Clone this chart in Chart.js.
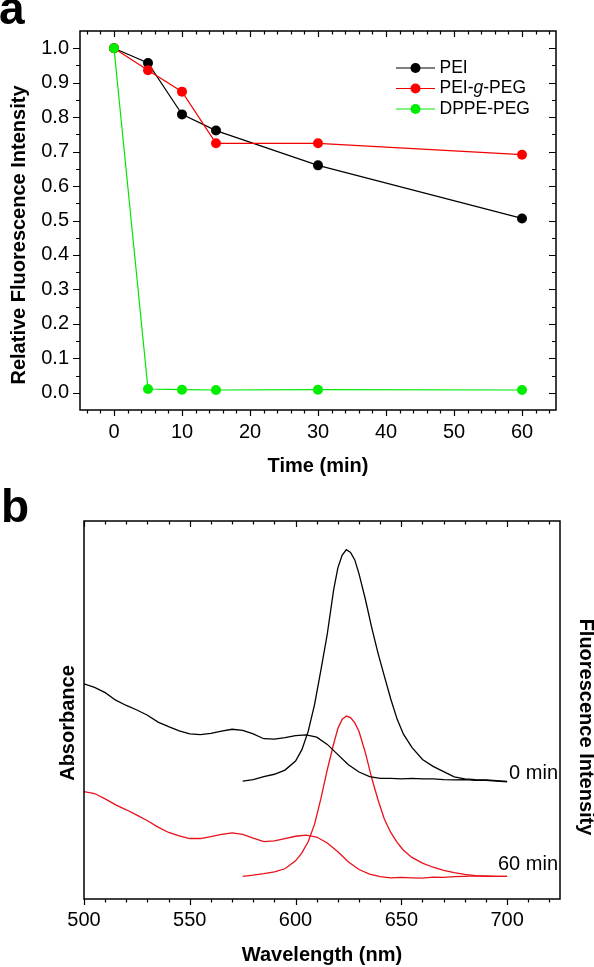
<!DOCTYPE html>
<html>
<head>
<meta charset="utf-8">
<script src="https://cdn.jsdelivr.net/npm/chart.js@4.4.1/dist/chart.umd.min.js"></script>
<style>
  html, body { margin: 0; padding: 0; background: #fff; }
  .panel { position: absolute; left: 0; width: 594px; }
</style>
</head>
<body>
<div class="panel" style="top:0;height:485px"><canvas id="chartA"></canvas></div>
<div class="panel" style="top:485px;height:482px"><canvas id="chartB"></canvas></div>
<script>
// ---- panel a: relative fluorescence vs time
const timeMin = [0, 5, 10, 15, 30, 60];
const seriesNames = ['PEI', 'PEI-g-PEG', 'DPPE-PEG'];
const peiValues = [1.0, 0.957, 0.808, 0.761, 0.660, 0.506];
const peiPegValues = [1.0, 0.936, 0.874, 0.724, 0.724, 0.691];
const dppePegValues = [1.0, 0.011, 0.009, 0.008, 0.009, 0.008];
const xTicksA = [0, 10, 20, 30, 40, 50, 60];
const yTicksA = [0, 0.1, 0.2, 0.3, 0.4, 0.5, 0.6, 0.7, 0.8, 0.9, 1.0];

// ---- panel b: absorbance + fluorescence spectra
const absWavelength = [500, 505, 510, 515, 520, 525, 530, 535, 540, 545, 550, 555, 560, 565, 570, 575, 580, 585, 590, 595,
  600, 605, 610, 615, 620, 625, 630, 635, 640, 645, 650, 655, 660, 665, 670, 675, 680, 685, 690, 695, 700];
const abs0min = [56.9, 56.0, 54.6, 52.6, 51.2, 50.0, 48.6, 46.8, 45.6, 44.5, 43.7, 43.5, 43.8, 44.4, 44.9, 44.6, 43.7, 42.4, 42.3, 42.7,
  43.2, 43.4, 42.8, 40.9, 38.2, 35.5, 33.6, 32.4, 31.9, 31.9, 31.8, 31.9, 31.8, 31.8, 31.6, 31.5, 31.6, 31.4, 31.4, 31.2, 31.0];
const abs60min = [28.4, 27.9, 26.5, 24.9, 23.6, 22.2, 20.7, 19.0, 17.6, 16.7, 16.0, 16.0, 16.5, 17.1, 17.5, 17.1, 16.1, 15.2, 15.4, 16.0,
  16.6, 16.9, 16.4, 14.8, 12.5, 9.8, 7.8, 6.6, 5.9, 5.6, 5.7, 5.6, 5.5, 5.8, 5.7, 5.9, 6.0, 6.1, 6.0, 6.0, 6.0];
const fluorWavelength = [575, 580, 585, 590, 595, 600, 603, 606, 609, 612, 615, 618, 620, 622, 624, 626, 628, 630, 633, 636,
  639, 642, 645, 648, 651, 655, 660, 665, 670, 675, 680, 685, 690, 695, 700];
const fluor0min = [31.2, 31.6, 32.4, 33.0, 34.1, 36.5, 39.5, 44.4, 51.5, 60.6, 70.1, 81.8, 87.6, 90.9, 92.4, 91.7, 89.7, 86.0, 79.3, 71.8,
  65.0, 58.9, 52.9, 47.6, 43.6, 40.1, 36.9, 35.1, 33.7, 32.3, 31.8, 31.6, 31.5, 31.3, 31.1];
const fluor60min = [6.0, 6.3, 6.7, 7.2, 8.0, 10.1, 12.2, 15.2, 19.8, 26.6, 34.2, 41.0, 45.1, 47.5, 48.4, 48.0, 46.6, 44.3, 38.7, 32.0,
  26.2, 21.1, 17.6, 15.0, 12.9, 11.0, 9.5, 8.4, 7.6, 7.0, 6.5, 6.2, 6.1, 6.0, 6.0];
const curveLabels = ['0 min', '60 min'];
const xTicksB = [500, 550, 600, 650, 700];

Chart.defaults.font.family = "'Liberation Sans', Arial, sans-serif";
Chart.defaults.font.size = 20;
Chart.defaults.color = '#000';

const FONT = "'Liberation Sans', Arial, sans-serif";

function steps(a, b, st) {
  const out = [];
  for (let v = a; v <= b + 1e-9; v += st) out.push(Math.round(v * 1000) / 1000);
  return out;
}
const pts = (xs, ys) => xs.map((x, i) => ({ x: x, y: ys[i] }));

// frame box + ticks on all sides (len > 0 outward, < 0 inward)
const frameTicks = {
  id: 'frameTicks',
  afterDraw(chart, args, opts) {
    const { ctx, chartArea: a, scales } = chart;
    ctx.save();
    ctx.strokeStyle = '#000';
    ctx.lineWidth = 1.2;
    ctx.beginPath();
    opts.ticks.forEach(t => {
      const sc = scales[t.axis];
      t.values.forEach(v => {
        const p = Math.round(sc.getPixelForValue(v)) + 0.5;
        if (t.side === 'bottom') { ctx.moveTo(p, a.bottom); ctx.lineTo(p, a.bottom + t.len); }
        if (t.side === 'top') { ctx.moveTo(p, a.top); ctx.lineTo(p, a.top - t.len); }
        if (t.side === 'left') { ctx.moveTo(a.left, p); ctx.lineTo(a.left - t.len, p); }
        if (t.side === 'right') { ctx.moveTo(a.right, p); ctx.lineTo(a.right + t.len, p); }
      });
    });
    ctx.stroke();
    ctx.lineWidth = 1.5;
    ctx.strokeRect(a.left, a.top, a.right - a.left, a.bottom - a.top);
    ctx.restore();
  }
};

// panel letter + rotated axis titles + free text
const extraText = {
  id: 'extraText',
  afterDraw(chart, args, opts) {
    const ctx = chart.ctx;
    ctx.save();
    ctx.fillStyle = '#000';
    (opts.items || []).forEach(it => {
      ctx.save();
      ctx.translate(it.x, it.y);
      ctx.rotate(it.angle || 0);
      ctx.font = it.font;
      ctx.textAlign = it.align || 'center';
      ctx.textBaseline = it.baseline || 'middle';
      ctx.fillText(it.text, 0, 0);
      ctx.restore();
    });
    ctx.restore();
  }
};

// legend for panel a, with the italic g
const legendA = {
  id: 'legendA',
  afterDraw(chart) {
    const ctx = chart.ctx;
    const rows = [68, 88.5, 109];
    ctx.save();
    chart.data.datasets.forEach((ds, i) => {
      const y = rows[i];
      ctx.strokeStyle = ds.borderColor;
      ctx.lineWidth = 1.2;
      ctx.beginPath(); ctx.moveTo(396, y); ctx.lineTo(435, y); ctx.stroke();
      ctx.fillStyle = ds.pointBackgroundColor;
      ctx.beginPath(); ctx.arc(415.5, y, 5, 0, Math.PI * 2); ctx.fill();
      ctx.fillStyle = '#000';
      ctx.textBaseline = 'middle';
      ctx.textAlign = 'left';
      let x = 439.5;
      ds.label.split(/(-g-)/).forEach(part => {
        if (part === '-g-') {
          ctx.font = '17.5px ' + FONT;
          ctx.fillText('-', x, y); x += ctx.measureText('-').width;
          ctx.font = 'italic 17.5px ' + FONT;
          ctx.fillText('g', x, y); x += ctx.measureText('g').width;
          ctx.font = '17.5px ' + FONT;
          ctx.fillText('-', x, y); x += ctx.measureText('-').width;
        } else {
          ctx.font = '17.5px ' + FONT;
          ctx.fillText(part, x, y); x += ctx.measureText(part).width;
        }
      });
    });
    ctx.restore();
  }
};

function lineSet(label, data, color, mark, order) {
  return {
    label: label, data: data, order: order,
    borderColor: color, borderWidth: 1.2,
    pointRadius: 5, pointBorderWidth: 0,
    pointBackgroundColor: mark, pointBorderColor: mark,
    tension: 0, fill: false
  };
}

new Chart(document.getElementById('chartA'), {
  type: 'line',
  data: {
    datasets: [
      lineSet(seriesNames[0], pts(timeMin, peiValues), '#000000', '#000000', 3),
      lineSet(seriesNames[1], pts(timeMin, peiPegValues), '#f00000', '#ff0000', 2),
      lineSet(seriesNames[2], pts(timeMin, dppePegValues), '#00e600', '#00ee00', 1)
    ]
  },
  options: {
    responsive: true,
    maintainAspectRatio: false,
    animation: false,
    layout: { padding: { top: 31, right: 38, left: 0, bottom: 0 } },
    plugins: {
      legend: { display: false },
      tooltip: { enabled: false },
      frameTicks: {
        ticks: [
          { axis: 'x', side: 'bottom', len: 6, values: steps(0, 60, 10) },
          { axis: 'x', side: 'bottom', len: 3.5, values: steps(-4, 64, 2) },
          { axis: 'x', side: 'top', len: -6, values: steps(0, 60, 10) },
          { axis: 'x', side: 'top', len: -3.5, values: steps(-4, 64, 2) },
          { axis: 'y', side: 'left', len: 7, values: steps(0, 1, 0.1) },
          { axis: 'y', side: 'left', len: 4, values: steps(0.05, 0.95, 0.1) },
          { axis: 'y', side: 'right', len: -7, values: steps(0, 1, 0.1) },
          { axis: 'y', side: 'right', len: -4, values: steps(0.05, 0.95, 0.1) }
        ]
      },
      extraText: {
        items: [
          { text: 'a', x: -1, y: 23.5, font: 'bold 46px ' + FONT, align: 'left', baseline: 'alphabetic' },
          { text: 'Relative Fluorescence Intensity', x: 19, y: 235, angle: -Math.PI / 2, font: 'bold 20px ' + FONT }
        ]
      }
    },
    scales: {
      x: {
        type: 'linear', position: 'bottom', min: -5, max: 65,
        afterBuildTicks: s => { s.ticks = xTicksA.map(v => ({ value: v })); },
        afterFit: s => { s.height = 75; },
        grid: { display: false, drawTicks: false },
        border: { display: false },
        ticks: { padding: 10, maxRotation: 0, autoSkip: false, font: { size: 20 } },
        title: { display: true, text: 'Time (min)', font: { size: 20, weight: 'bold' }, padding: { top: 0, bottom: 7 } }
      },
      y: {
        type: 'linear', position: 'left', min: -0.05, max: 1.05,
        afterBuildTicks: s => { s.ticks = yTicksA.map(v => ({ value: v })); },
        afterFit: s => { s.width = 80; },
        grid: { display: false, drawTicks: false },
        border: { display: false },
        ticks: { padding: 11, font: { size: 20 }, callback: v => Number(v).toFixed(1) }
      }
    }
  },
  plugins: [frameTicks, legendA, extraText]
});

function specSet(data, color) {
  return { data: data, borderColor: color, borderWidth: 1.3, pointRadius: 0, tension: 0, fill: false };
}

new Chart(document.getElementById('chartB'), {
  type: 'line',
  data: {
    datasets: [
      specSet(pts(absWavelength, abs0min), '#000000'),
      specSet(pts(fluorWavelength, fluor0min), '#000000'),
      specSet(pts(absWavelength, abs60min), '#e8101a'),
      specSet(pts(fluorWavelength, fluor60min), '#e8101a')
    ]
  },
  options: {
    responsive: true,
    maintainAspectRatio: false,
    animation: false,
    layout: { padding: { top: 36, right: 34, left: 0, bottom: 0 } },
    plugins: {
      legend: { display: false },
      tooltip: { enabled: false },
      frameTicks: {
        ticks: [
          { axis: 'x', side: 'bottom', len: 6, values: steps(500, 700, 50) },
          { axis: 'x', side: 'bottom', len: 3.5, values: steps(510, 720, 10) },
          { axis: 'x', side: 'top', len: -6, values: steps(500, 700, 50) },
          { axis: 'x', side: 'top', len: -3.5, values: steps(510, 720, 10) }
        ]
      },
      extraText: {
        items: [
          { text: 'b', x: 1, y: 37, font: 'bold 46px ' + FONT, align: 'left', baseline: 'alphabetic' },
          { text: 'Absorbance', x: 68, y: 238, angle: -Math.PI / 2, font: 'bold 20px ' + FONT },
          { text: 'Fluorescence Intensity', x: 586, y: 242, angle: Math.PI / 2, font: 'bold 20px ' + FONT },
          { text: curveLabels[0], x: 558, y: 288.5, font: '20px ' + FONT, align: 'right' },
          { text: curveLabels[1], x: 558, y: 379, font: '20px ' + FONT, align: 'right' }
        ]
      }
    },
    scales: {
      x: {
        type: 'linear', position: 'bottom', min: 500, max: 725,
        afterBuildTicks: s => { s.ticks = xTicksB.map(v => ({ value: v })); },
        afterFit: s => { s.height = 68; },
        grid: { display: false, drawTicks: false },
        border: { display: false },
        ticks: { padding: 9, maxRotation: 0, autoSkip: false, font: { size: 20 } },
        title: { display: true, text: 'Wavelength (nm)', font: { size: 20, weight: 'bold' }, padding: { top: 0, bottom: 0 } }
      },
      y: {
        type: 'linear', position: 'left', min: 0, max: 100,
        afterFit: s => { s.width = 84; },
        grid: { display: false, drawTicks: false },
        border: { display: false },
        ticks: { display: false }
      }
    }
  },
  plugins: [frameTicks, extraText]
});
</script>
</body>
</html>
